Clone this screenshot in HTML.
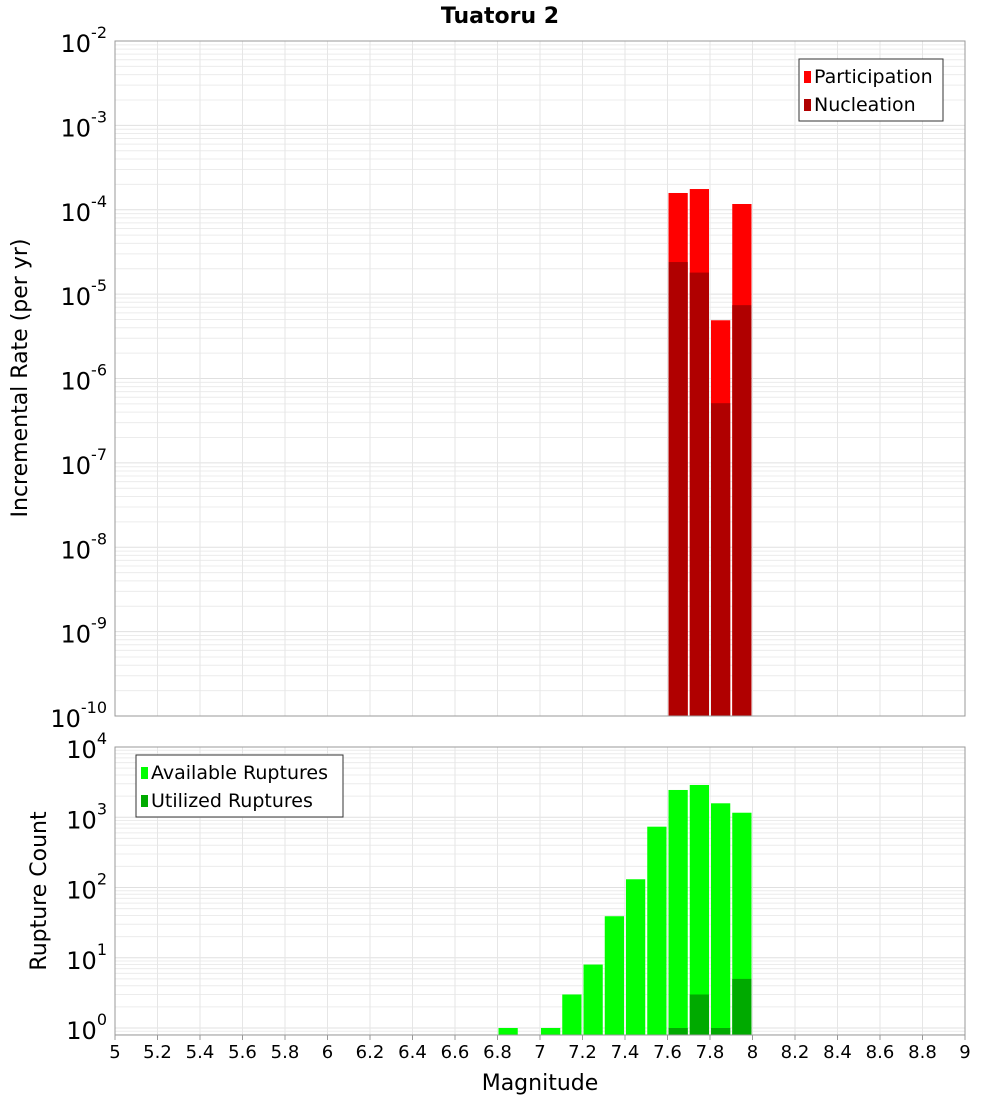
<!DOCTYPE html>
<html><head><meta charset="utf-8"><style>
body{margin:0;background:#fff;font-family:"Liberation Sans","DejaVu Sans",sans-serif}
</style></head><body>
<svg id="chart" width="1000" height="1100" xmlns="http://www.w3.org/2000/svg" font-family="DejaVu Sans, Liberation Sans, sans-serif">
<text x="500" y="23" text-anchor="middle" font-size="22" font-weight="bold">Tuatoru 2</text>
<g id="topPlot"></g>
<g id="botPlot"></g>
<text transform="translate(27,378) rotate(-90)" text-anchor="middle" font-size="22">Incremental Rate (per yr)</text>
<text transform="translate(46,891) rotate(-90)" text-anchor="middle" font-size="22">Rupture Count</text>
<text x="540" y="1090" text-anchor="middle" font-size="22">Magnitude</text>
</svg>
<script>
const bins = [6.85, 7.05, 7.15, 7.25, 7.35, 7.45, 7.55, 7.65, 7.75, 7.85, 7.95];
const participation = [0, 0, 0, 0, 0, 0, 0, 1.58e-4, 1.76e-4, 4.9e-6, 1.17e-4];
const nucleation = [0, 0, 0, 0, 0, 0, 0, 2.4e-5, 1.8e-5, 5.1e-7, 7.4e-6];
const available = [1, 1, 3, 8, 39, 131, 734, 2445, 2880, 1580, 1160];
const utilized = [0, 0, 0, 0, 0, 0, 0, 1, 3, 1, 5];
const xTicks = [5,5.2,5.4,5.6,5.8,6,6.2,6.4,6.6,6.8,7,7.2,7.4,7.6,7.8,8,8.2,8.4,8.6,8.8,9];
const topExps = [-10,-9,-8,-7,-6,-5,-4,-3,-2];
const botExps = [0,1,2,3,4];

const NS="http://www.w3.org/2000/svg";
const X0=115,X1=965;
const xs=m=>X0+(m-5)/4*(X1-X0);
const topY=v=>41+(-2-Math.log10(v))*(716-41)/8;
const botY=v=>1028-Math.log10(v)*70.25;
function mk(p,t,a){const e=document.createElementNS(NS,t);for(const k in a)e.setAttribute(k,a[k]);p.appendChild(e);return e;}

function frame(g,yT,yB,yFn,exps){
  mk(g,'rect',{x:X0,y:yT,width:X1-X0,height:yB-yT,fill:'#fff'});
  for(let i=0;i<exps.length;i++){
    for(let k=1;k<10;k++){
      const v=k*Math.pow(10,exps[i]);const y=yFn(v);
      if(y<yT-0.5||y>yB+0.5)continue;
      const l=mk(g,'line',{x1:X0,x2:X1,y1:y,y2:y,stroke:k==1?'#e0e0e0':'#ececec','stroke-width':1});
      
      
    }
  }
  xTicks.forEach(t=>{const x=xs(t);const l=mk(g,'line',{x1:x,x2:x,y1:yT,y2:yB,stroke:'#e6e6e6'});
    
    });
}
function border(g,yT,yB){const r=mk(g,'rect',{x:X0,y:yT,width:X1-X0,height:yB-yT,fill:'none',stroke:'#999'});
  
  }
function ylabels(g,exps,yFn){
  exps.forEach(e=>{const y=yFn(Math.pow(10,e));
    const t=mk(g,'text',{x:X0-8,y:y+11,'text-anchor':'end','font-size':24});
    
    
    const s1=document.createElementNS(NS,'tspan');s1.textContent='10';t.appendChild(s1);
    const s2=document.createElementNS(NS,'tspan');s2.setAttribute('dy','-14');s2.setAttribute('font-size','16');s2.textContent=String(e);t.appendChild(s2);
  });
}
function bars(g,vals,yFn,yB,color,name){
  const w=(xs(5.1)-xs(5))-2;
  bins.forEach((b,i)=>{const v=vals[i];if(!(v>0))return;
    const y=Math.max(yFn(v),0);const r=mk(g,'rect',{x:xs(b)-w/2,y:y,width:w,height:yB-y,fill:color});
    
    });
}
function legend(g,x,y,w,items){
  const r=mk(g,'rect',{x:x,y:y,width:w,height:62,fill:'#fff',stroke:'#333'});
  
  
  items.forEach((it,i)=>{const sw=mk(g,'rect',{x:x+5,y:y+12+i*28,width:7,height:12,fill:it[1]});
    
    
    const t=mk(g,'text',{x:x+15,y:y+24+i*28,'font-size':19});t.textContent=it[0];
    
    });
}
const topG=document.getElementById('topPlot'),botG=document.getElementById('botPlot');
frame(topG,41,716,topY,topExps);
bars(topG,participation,topY,716,'#ff0000','participation-bar');
bars(topG,nucleation,topY,716,'#b00000','nucleation-bar');
border(topG,41,716);ylabels(topG,topExps,topY);
legend(topG,799,59,144,[['Participation','#ff0000'],['Nucleation','#b00000']]);

frame(botG,747,1035,botY,[-1,0,1,2,3]);
bars(botG,available,botY,1035,'#00ff00','available-bar');
bars(botG,utilized,botY,1035,'#00aa00','utilized-bar');
border(botG,747,1035);ylabels(botG,botExps,botY);
legend(botG,136,755,207,[['Available Ruptures','#00ff00'],['Utilized Ruptures','#00aa00']]);
xTicks.forEach(t=>{const x=xs(t);
  mk(botG,'line',{x1:x,x2:x,y1:1035,y2:1040,stroke:'#999'});
  const tx=mk(botG,'text',{x:x,y:1058,'text-anchor':'middle','font-size':18});tx.textContent=String(t);
  
  });
</script>
</body></html>
